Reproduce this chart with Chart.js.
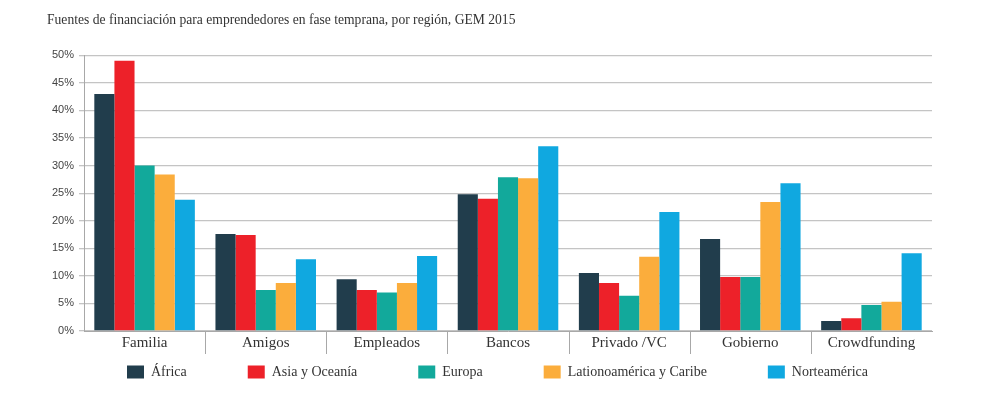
<!DOCTYPE html>
<html><head><meta charset="utf-8">
<script src="https://cdn.jsdelivr.net/npm/chart.js@4"></script>
<style>html,body{margin:0;padding:0;background:#fff}#w{width:985px;height:397px}</style>
</head><body><div id="w"><canvas id="c"></canvas></div>
<script>
const categories = ["Familia","Amigos","Empleados","Bancos","Privado /VC","Gobierno","Crowdfunding"];
const africa = [43.0,17.6,9.4,24.8,10.5,16.7,1.8];
const asiaOceania = [49.0,17.4,7.45,24.0,8.7,9.8,2.3];
const europa = [30.0,7.45,7.0,27.9,6.4,9.8,4.7];
const latam = [28.4,8.7,8.7,27.7,13.45,23.4,5.3];
const norteamerica = [23.8,13.0,13.6,33.5,21.6,26.8,14.1];
const seriesNames = ["África","Asia y Oceanía","Europa","Lationoamérica y Caribe","Norteamérica"];
const colors = ["#213d4c","#ed2129","#12a99b","#fbad3c","#10a8e0"];
const seriesData = [africa, asiaOceania, europa, latam, norteamerica];

const LEGEND_GAP = 61;

const separators = {
  id: 'separators',
  afterDraw(chart) {
    const xs = chart.scales.x, ca = chart.chartArea, ctx = chart.ctx;
    ctx.save();
    ctx.strokeStyle = '#a8a8a8';
    ctx.lineWidth = 1;
    for (let i = 1; i < categories.length; i++) {
      const x = Math.round((xs.getPixelForValue(i - 1) + xs.getPixelForValue(i)) / 2) + 0.5;
      ctx.beginPath();
      ctx.moveTo(x, ca.bottom);
      ctx.lineTo(x, ca.bottom + 23);
      ctx.stroke();
    }
    ctx.restore();
  }
};

const legendShift = {
  id: 'legendShift',
  afterLayout(chart) {
    const lg = chart.legend;
    if (lg) {
      lg.top = lg.top + 10 - LEGEND_GAP; lg.height = lg.bottom - lg.top;
      lg.left += 8; lg.right += 8;
    }
  }
};

new Chart(document.getElementById('c'), {
  type: 'bar',
  data: {
    labels: categories,
    datasets: seriesData.map((d,i)=>({label: seriesNames[i], data: d, backgroundColor: colors[i], categoryPercentage: 0.83, barPercentage: 1.0, borderWidth: 0}))
  },
  plugins: [separators, legendShift],
  options: {
    responsive: true, maintainAspectRatio: false, animation: false,
    layout: {padding: {left: 47, right: 53, top: 10, bottom: 0}},
    plugins: {
      title: {display: true, text: "Fuentes de financiación para emprendedores en fase temprana, por región, GEM 2015", align: 'start', color: '#333', font: {family: "'Liberation Serif', serif", size: 13.6, weight: 'normal'}, padding: {top: 2, bottom: 27}},
      legend: {position: 'bottom', maxHeight: 42, labels: {boxWidth: 17, boxHeight: 13, padding: LEGEND_GAP, color: '#333', font: {family: "'Liberation Serif', serif", size: 14}}},
      tooltip: {enabled: false}
    },
    scales: {
      x: {
        grid: {display: false, drawTicks: false},
        border: {display: true, color: '#a8a8a8'},
        ticks: {padding: 3, color: '#333', autoSkip: false, maxRotation: 0, font: {family: "'Liberation Serif', serif", size: 15}}
      },
      y: {
        min: 0, max: 50,
        grid: {color: '#c4c4c4', tickLength: 5, lineWidth: 1.3},
        border: {display: true, color: '#a8a8a8'},
        ticks: {stepSize: 5, padding: 5, color: '#444', callback: v => v + '%', font: {family: "'Liberation Sans Narrow', 'Liberation Sans', sans-serif", size: 11}}
      }
    }
  }
});
</script></body></html>
